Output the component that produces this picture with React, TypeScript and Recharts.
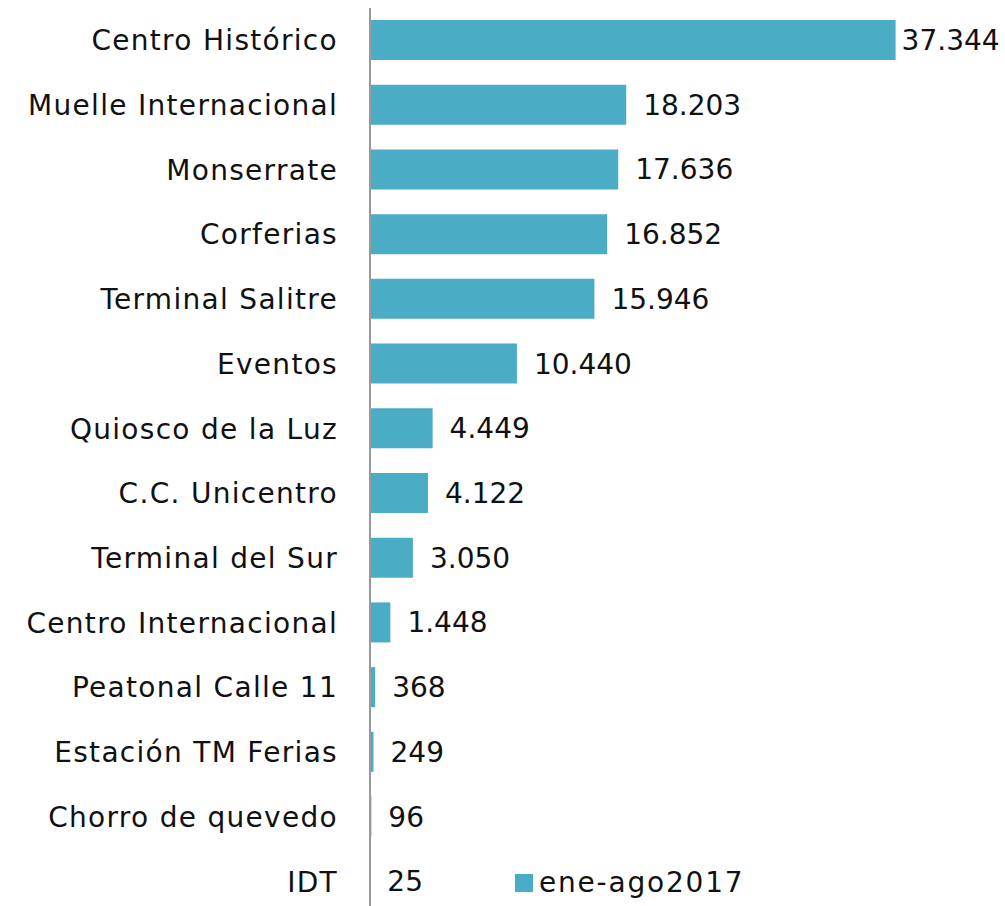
import React from "react";
import { BarChart, Bar, XAxis, YAxis, LabelList, Legend } from "recharts";

const categories = [
  "Centro Histórico",
  "Muelle Internacional",
  "Monserrate",
  "Corferias",
  "Terminal Salitre",
  "Eventos",
  "Quiosco de la Luz",
  "C.C. Unicentro",
  "Terminal del Sur",
  "Centro Internacional",
  "Peatonal Calle 11",
  "Estación TM Ferias",
  "Chorro de quevedo",
  "IDT",
];
const values = [37344, 18203, 17636, 16852, 15946, 10440, 4449, 4122, 3050, 1448, 368, 249, 96, 25];
const seriesName = "ene-ago2017";

const data = categories.map((c, i) => ({ name: c, value: values[i] }));

const FONT = "'DejaVu Sans', sans-serif";
const COLOR = "#4BACC6";

const fmt = (v: number) => v.toString().replace(/\B(?=(\d{3})+(?!\d))/g, ".");

const ValueLabel = (props: any) => {
  const { x, y, width, height, value, index } = props;
  const gap = index === 0 ? 6 : 17;
  return (
    <text
      x={x + width + gap}
      y={y + height / 2}
      dy={10}
      fontFamily={FONT}
      fontSize={28}
      fill="#111"
      textAnchor="start"
    >
      {fmt(value)}
    </text>
  );
};

const LegendContent = () => (
  <div style={{ display: "flex", alignItems: "center", fontFamily: FONT, fontSize: 28, color: "#111", letterSpacing: 1.8, lineHeight: "34px" }}>
    <div style={{ width: 18, height: 18, background: COLOR, marginRight: 6 }} />
    <span>{seriesName}</span>
  </div>
);

export default function App() {
  return (
    <div style={{ position: "absolute", left: 0, top: 0, width: 1005, height: 906, overflow: "hidden", background: "#fff" }}>
      <BarChart
        width={1005}
        height={948}
        data={data}
        layout="vertical"
        margin={{ top: 8, right: 72, left: 0, bottom: 0 }}
        barCategoryGap={12}
      >
        <XAxis type="number" domain={[0, 40000]} hide />
        <YAxis
          type="category"
          dataKey="name"
          width={370}
          tickLine={false}
          tickMargin={26}
          axisLine={{ stroke: "#999", strokeWidth: 2 }}
          tick={{ fontFamily: FONT, fontSize: 28, fill: "#111", letterSpacing: 1.3 }}
          interval={0}
        />
        <Bar dataKey="value" name={seriesName} fill={COLOR} barSize={40} isAnimationActive={false}>
          <LabelList dataKey="value" content={<ValueLabel />} />
        </Bar>
        <Legend
          content={<LegendContent />}
          wrapperStyle={{ position: "absolute", left: 515, top: 866, width: 300, height: 34 }}
        />
      </BarChart>
    </div>
  );
}
